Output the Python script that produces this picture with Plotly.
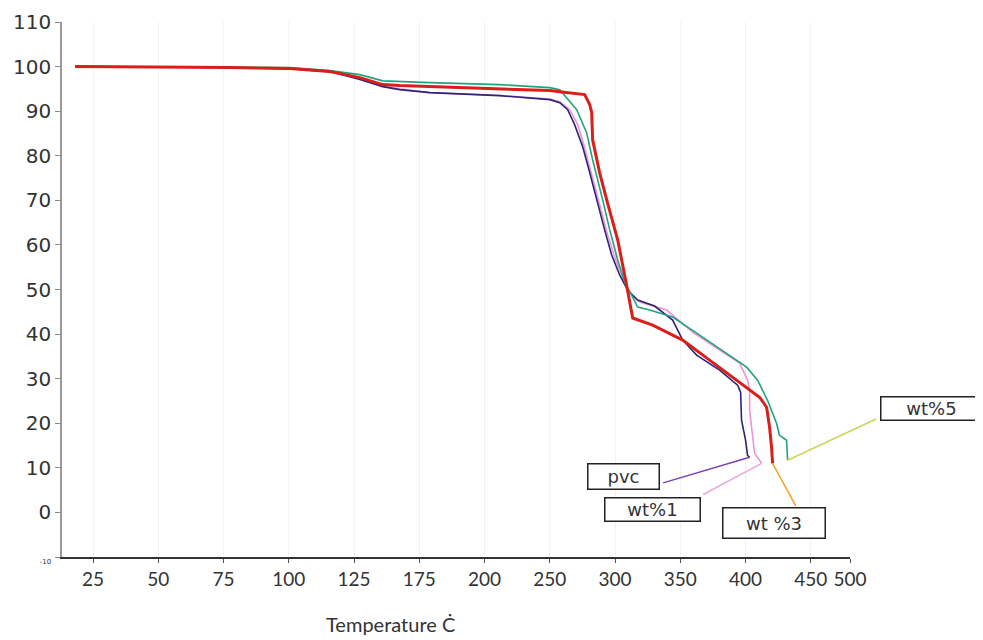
import numpy as np
import plotly.graph_objects as go

# ---------------- data ----------------
TICK_LABELS = [25, 50, 75, 100, 125, 175, 200, 250, 300, 350, 400, 450, 500]
Y_TICKS = [-10, 0, 10, 20, 30, 40, 50, 60, 70, 80, 90, 100, 110]

pvc_T = [18.1, 46.8, 77.5, 100.4, 115.7, 129.5, 147, 160, 179, 211.6, 250, 257.6, 263.7, 269,
         275.2, 280.6, 285.9, 292, 297.4, 303.5, 309.6, 317.3, 330.3, 344.1, 351.8, 362.5, 380.1,
         393.9, 396.2, 396.9, 400, 401.5, 403.1]
pvc_W = [100, 99.9, 99.8, 99.55, 98.88, 97.08, 95.51, 94.83, 94.16, 93.48, 92.58, 91.91, 90.34,
         86.97, 82.02, 76.18, 70.11, 63.37, 57.75, 53.26, 49.89, 47.64, 46.29, 43.15, 38.65, 35.28,
         31.91, 28.54, 26.97, 20.67, 16.18, 12.81, 12.36]

wt1_T = [18.1, 46.8, 77.5, 100.4, 115.7, 129.5, 147, 160, 179, 211.6, 250, 257.6, 265.2, 271.4,
         276.7, 282.1, 288.2, 294.3, 300.5, 306.6, 312.7, 318.8, 339.5, 359.4, 380.1, 395.4,
         401.5, 403.1, 403.1, 405.4, 406.9, 412.3]
wt1_W = [100, 99.9, 99.8, 99.55, 98.88, 97.3, 95.7, 95.0, 94.2, 93.5, 92.7, 92.13, 90.34, 86.97,
         81.8, 75.73, 68.99, 62.25, 56.63, 52.13, 48.76, 47.19, 45.39, 40.45, 36.4, 33.48, 29.66,
         27.42, 22.92, 16.18, 13.26, 11.01]

wt5_T = [18.1, 46.8, 77.5, 100.4, 115.7, 129.5, 147, 160, 179, 211.6, 250, 257.6, 263, 270.6,
         278.2, 282.8, 290.5, 295.9, 302, 308.1, 312.7, 317.3, 326.5, 344.1, 362.5, 385.5, 400.8,
         409.2, 416.8, 423.7, 426, 431.4, 432.2]
wt5_W = [100, 99.9, 99.85, 99.78, 99.1, 98.2, 96.8, 96.6, 96.4, 95.96, 95.28, 94.83, 93.03, 90.34,
         85.17, 79.1, 70.11, 63.37, 56.63, 51.01, 48.76, 46.07, 45.39, 43.82, 40.22, 35.73, 32.58,
         29.66, 25.17, 20, 17.3, 16.18, 11.69]

wt3_T = [18.1, 46.8, 77.5, 100.4, 115.7, 129.5, 147, 160, 179, 211.6, 250, 257.6, 265.2, 276.7,
         280.6, 282.1, 282.8, 288.2, 293.6, 302, 308.1, 313.5, 328.8, 351.8, 372.4, 393.1, 410.7,
         416.1, 418.4, 419.9, 420.7]
wt3_W = [100, 99.9, 99.8, 99.55, 98.88, 97.53, 95.96, 95.73, 95.51, 95.06, 94.61, 94.38, 94.16,
         93.71, 91.46, 89.66, 83.6, 76.18, 70.11, 61.12, 52.13, 43.6, 42.02, 38.65, 34.16, 29.66,
         25.84, 23.6, 19.1, 14.61, 11.01]

LABELS = ["pvc", "wt%1", "wt %3", "wt%5"]

# ---------------- axis mapping (evenly spaced, non-linear tick labels) ----------------
TICK_SLOTS = list(range(12)) + [11.6]


def to_axis(t):
    t = np.asarray(t, dtype=float)
    s = np.interp(t, TICK_LABELS, TICK_SLOTS)
    low = t < TICK_LABELS[0]
    s[low] = (t[low] - TICK_LABELS[0]) / (TICK_LABELS[1] - TICK_LABELS[0])
    return s


fig = go.Figure()

series = [
    ("wt%1", wt1_T, wt1_W, "#EE93D6", 1.6),
    ("pvc", pvc_T, pvc_W, "#2E2478", 1.6),
    ("wt%5", wt5_T, wt5_W, "#22A27E", 1.6),
    ("wt %3", wt3_T, wt3_W, "#DA1F1A", 3),
]
for name, T, W, col, wd in series:
    fig.add_trace(go.Scatter(x=to_axis(T), y=W, mode="lines", name=name,
                             line=dict(color=col, width=wd), showlegend=False))

# leader lines (from label box to end of each curve)
leaders = [
    (pvc_T[-1], pvc_W[-1], -88, 26, "#7A3FB8"),
    (wt1_T[-1], wt1_W[-1], -60, 32, "#EAA8DE"),
    (wt5_T[-1], wt5_W[-1], 90, -42, "#C9D65A"),
    (wt3_T[-1], wt3_W[-1], 24, 44, "#F0A22A"),
]
for T, W, ax, ay, col in leaders:
    fig.add_annotation(x=float(to_axis([T])[0]), y=W, xref="x", yref="y", text="",
                       showarrow=True, arrowhead=0, arrowwidth=1.5, arrowcolor=col,
                       ax=ax, ay=ay)

# label boxes (paper coords)
boxes = [
    ("pvc", 0.713, 0.151, 66, 20),
    ("wt%1", 0.749, 0.0897, 90, 18),
    ("wt %3", 0.9036, 0.0636, 97, 25),
    ("wt%5", 1.104, 0.2785, 96, 18),
]
for txt, px, py, w, h in boxes:
    fig.add_annotation(x=px, y=py, xref="paper", yref="paper", text=txt, showarrow=False,
                       xanchor="center", yanchor="middle", width=w, height=h,
                       bordercolor="#222", borderwidth=1.5, borderpad=2, bgcolor="white",
                       font=dict(family="DejaVu Sans", size=18, color="#333"))

# x axis title
fig.add_annotation(x=(390 - 62) / 788, y=-(624 - 557) / 535, xref="paper", yref="paper",
                   text="Temperature Ċ", showarrow=False, yanchor="middle",
                   font=dict(family="Lato", size=20, color="#333"))

ytext = ["<span style='font-size:7px'>-10</span>"] + [str(v) for v in Y_TICKS[1:]]

# page body has an 8px default margin -> figure is 8px smaller than the window
fig.update_layout(
    width=975, height=632,
    margin=dict(l=54, r=133, t=14, b=83),
    paper_bgcolor="white", plot_bgcolor="white",
    xaxis=dict(range=[-0.475, 11.6], tickmode="array", tickvals=TICK_SLOTS,
               ticktext=[str(v) for v in TICK_LABELS], showline=True, linecolor="#333",
               linewidth=2, ticks="outside", ticklen=4, tickcolor="#555",
               showgrid=True, gridcolor="#f2f2f2", zeroline=False, automargin=False,
               tickfont=dict(family="Lato", size=19, color="#333")),
    yaxis=dict(range=[-10, 110], tickmode="array", tickvals=Y_TICKS, ticktext=ytext,
               showline=True, linecolor="#999", linewidth=1.5, ticks="outside", ticklen=5,
               tickcolor="#888", showgrid=False, zeroline=False, automargin=False,
               tickfont=dict(family="DejaVu Sans", size=20, color="#333")),
)

fig.write_html("out.html")
